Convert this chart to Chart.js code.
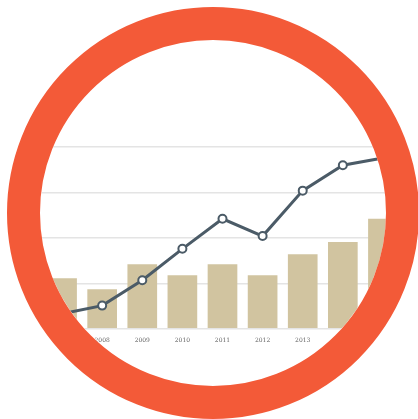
<!DOCTYPE html>
<html>
<head>
<meta charset="utf-8">
<script src="https://cdn.jsdelivr.net/npm/chart.js@4"></script>
<style>
  html, body { margin: 0; padding: 0; background: #fff; }
  #wrap { width: 418px; height: 419px; position: relative; }
</style>
</head>
<body>
<div id="wrap"><canvas id="grafico"></canvas></div>
<script>
// Dados
const anos = ['2007', '2008', '2009', '2010', '2011', '2012', '2013', '2014', '2015'];
const valoresBarras = [1.11, 0.87, 1.42, 1.18, 1.42, 1.18, 1.64, 1.91, 2.42];
const valoresLinha = [0.33, 0.51, 1.07, 1.76, 2.42, 2.04, 3.04, 3.6, 3.76];

// Círculo (moldura) que recorta o gráfico
const CX = 213, CY = 213, R_INT = 173, R_EXT = 206;

const molduraPlugin = {
    id: 'moldura',
    beforeDraw(chart) {
        const ctx = chart.ctx;
        ctx.save();
        ctx.beginPath();
        ctx.arc(CX, CY, R_INT, 0, Math.PI * 2);
        ctx.clip();
    },
    afterDraw(chart) {
        const ctx = chart.ctx;
        ctx.restore();
        ctx.save();
        ctx.beginPath();
        ctx.arc(CX, CY, (R_INT + R_EXT) / 2, 0, Math.PI * 2);
        ctx.lineWidth = R_EXT - R_INT;
        ctx.strokeStyle = '#f35a38';
        ctx.stroke();
        ctx.restore();
    }
};

new Chart(document.getElementById('grafico'), {
    data: {
        labels: anos,
        datasets: [
            {
                type: 'line', data: valoresLinha, order: 0,
                borderColor: '#4b5b67', borderWidth: 3,
                pointRadius: 4, pointBackgroundColor: '#fff',
                pointBorderColor: '#4b5b67', pointBorderWidth: 2,
                tension: 0
            },
            {
                type: 'bar', data: valoresBarras, order: 1,
                backgroundColor: '#d1c4a0',
                categoryPercentage: 1, barPercentage: 0.74
            }
        ]
    },
    options: {
        responsive: true,
        maintainAspectRatio: false,
        animation: false,
        layout: { padding: { left: 42, right: 15, top: 147, bottom: 75 } },
        plugins: { legend: { display: false }, tooltip: { enabled: false } },
        scales: {
            x: {
                offset: true,
                grid: { display: false },
                border: { display: false },
                ticks: { color: '#666', font: { size: 6, family: 'DejaVu Serif' }, padding: 0, maxRotation: 0 }
            },
            y: {
                min: 0, max: 4,
                ticks: { display: false, stepSize: 1 },
                border: { display: false },
                grid: { color: '#e4e4e4', lineWidth: 1.5, drawTicks: false }
            }
        }
    },
    plugins: [molduraPlugin]
});
</script>
</body>
</html>
